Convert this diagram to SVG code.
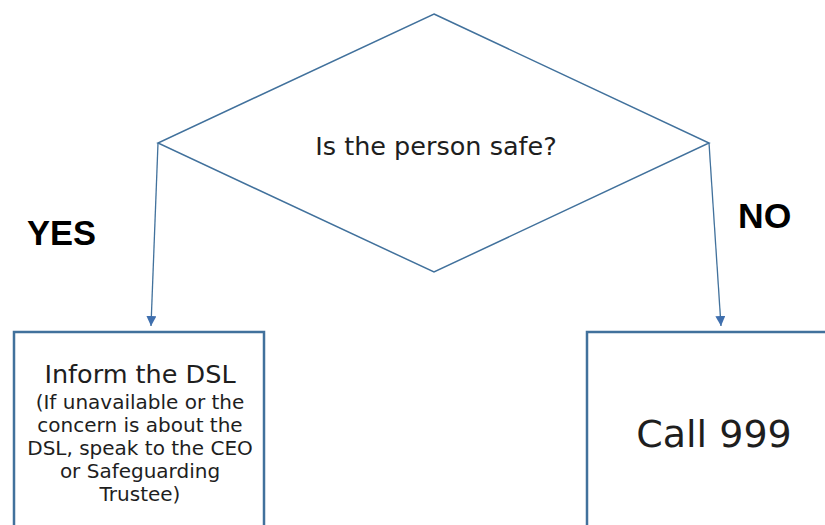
<svg xmlns="http://www.w3.org/2000/svg" width="825" height="525" viewBox="0 0 825 525">
  <style>
    .shape { fill: #ffffff; stroke: #41719C; }
    .conn { fill: none; stroke: #41719C; stroke-width: 1.3; }
    .t { font-family: "DejaVu Sans", Verdana, sans-serif; fill: #1e1e1e; text-anchor: middle; }
    .lbl { font-family: "Liberation Sans", Arial, sans-serif; font-weight: bold; fill: #000000; }
  </style>
  <defs>
    <marker id="arrow" viewBox="0 0 10 10" refX="10" refY="5" markerWidth="10" markerHeight="10" markerUnits="userSpaceOnUse" orient="auto">
      <path d="M0,0 L10,5 L0,10 z" fill="#3F6FAE"/>
    </marker>
  </defs>
  <rect width="825" height="525" fill="#ffffff"/>
  <g id="decision">
    <polygon class="shape" stroke-width="1.5" points="434,14 709,143 434,272 158,143"/>
    <text class="t" x="436" y="155" font-size="25.5">Is the person safe?</text>
  </g>
  <g id="inform-dsl">
    <rect class="shape" stroke-width="2.5" x="14" y="332" width="250" height="210"/>
    <text class="t" x="140" y="383" font-size="25.5">Inform the DSL</text>
    <text class="t" x="140" y="409" font-size="20">(If unavailable or the</text>
    <text class="t" x="140" y="432" font-size="20">concern is about the</text>
    <text class="t" x="140" y="455" font-size="20">DSL, speak to the CEO</text>
    <text class="t" x="140" y="478" font-size="20">or Safeguarding</text>
    <text class="t" x="140" y="501" font-size="20">Trustee)</text>
  </g>
  <g id="call-999">
    <rect class="shape" stroke-width="2.5" x="587" y="332" width="260" height="210"/>
    <text class="t" x="714" y="447" font-size="38">Call 999</text>
  </g>
  <g id="labels">
    <text class="lbl" x="27" y="245" font-size="34.5">YES</text>
    <text class="lbl" x="738" y="228" font-size="35.5">NO</text>
  </g>
  <g id="connectors">
    <line class="conn" x1="158" y1="143" x2="151" y2="326" marker-end="url(#arrow)"/>
    <line class="conn" x1="709" y1="143" x2="721" y2="326" marker-end="url(#arrow)"/>
  </g>
</svg>
